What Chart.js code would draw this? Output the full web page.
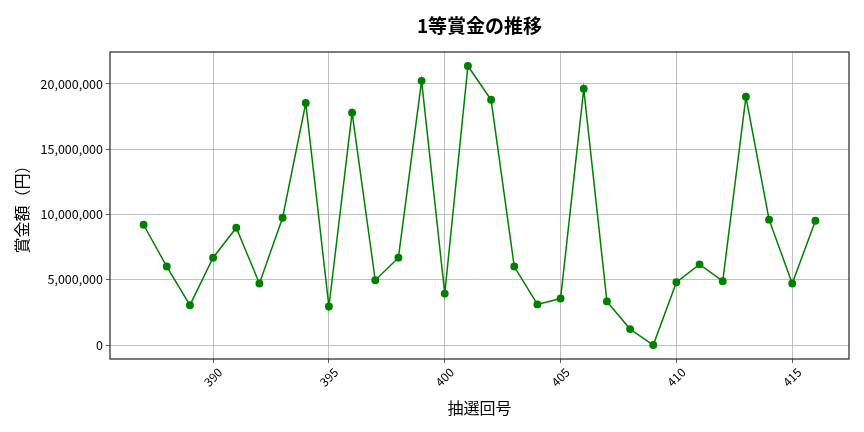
<!DOCTYPE html>
<html><head><meta charset="utf-8">
<script src="https://cdn.jsdelivr.net/npm/chart.js@4/dist/chart.umd.min.js"></script>
<style>html,body{margin:0;padding:0;background:#fff}#wrap{width:864px;height:432px}</style>
</head><body><div id="wrap"><canvas id="c" width="864" height="432"></canvas></div>
<script>
const draws = [387,388,389,390,391,392,393,394,395,396,397,398,399,400,401,402,403,404,405,406,407,408,409,410,411,412,413,414,415,416];
const prizes = [9210000,6010000,3050000,6690000,8980000,4710000,9750000,18530000,2950000,17790000,4960000,6690000,20230000,3940000,21370000,18780000,6010000,3110000,3560000,19620000,3340000,1220000,0,4810000,6180000,4890000,19010000,9600000,4710000,9520000];
const xTicks = [390,395,400,405,410,415];
const yTicks = [0,5000000,10000000,15000000,20000000];
const TITLE = '1等賞金の推移';
const FONT = "'Noto Sans CJK JP','Noto Sans',sans-serif";

const frame = {id:'frame', afterDraw(c){const a=c.chartArea,x=c.ctx;x.save();
  x.strokeStyle='#262626';x.lineWidth=1.2;x.strokeRect(a.left,a.top,a.right-a.left,a.bottom-a.top);
  x.fillStyle='#000';x.font="bold 19px "+FONT;x.textAlign='center';x.textBaseline='middle';
  x.fillText(TITLE,(a.left+a.right)/2,26);
  x.restore();}};

new Chart(document.getElementById('c'),{
  type:'line',
  data:{datasets:[{data:draws.map((d,i)=>({x:d,y:prizes[i]})),borderColor:'#008000',backgroundColor:'#008000',borderWidth:1.5,pointRadius:3.2,pointHoverRadius:3.2,tension:0}]},
  options:{
    responsive:false,animation:false,devicePixelRatio:1,
    layout:{padding:{left:0,right:15,top:52,bottom:0}},
    plugins:{legend:{display:false},tooltip:{enabled:false},title:{display:false}},
    scales:{
      x:{type:'linear',min:385.55,max:417.45,
        afterBuildTicks(s){s.ticks=xTicks.map(v=>({value:v}));},
        afterFit(s){s.height=73;},
        grid:{color:'#b0b0b0',lineWidth:0.8,tickLength:4,tickColor:'#333'},
        border:{display:false},
        ticks:{color:'#000',font:{family:FONT,size:12},minRotation:45,maxRotation:45,labelOffset:7,padding:2,callback:v=>String(v)},
        title:{display:true,text:'抽選回号',color:'#000',font:{family:FONT,size:16},padding:{top:4,bottom:14}}},
      y:{type:'linear',min:-1070000,max:22440000,
        afterBuildTicks(s){s.ticks=yTicks.map(v=>({value:v}));},
        afterFit(s){s.width=110;},
        grid:{color:'#b0b0b0',lineWidth:0.8,tickLength:4,tickColor:'#333'},
        border:{display:false},
        ticks:{color:'#000',font:{family:FONT,size:12.5},padding:3,callback:v=>v.toLocaleString('en-US')},
        title:{display:true,text:'賞金額（円）',color:'#000',font:{family:FONT,size:16},padding:{top:12,bottom:4}}}
    }
  },
  plugins:[frame]
});
</script></body></html>
